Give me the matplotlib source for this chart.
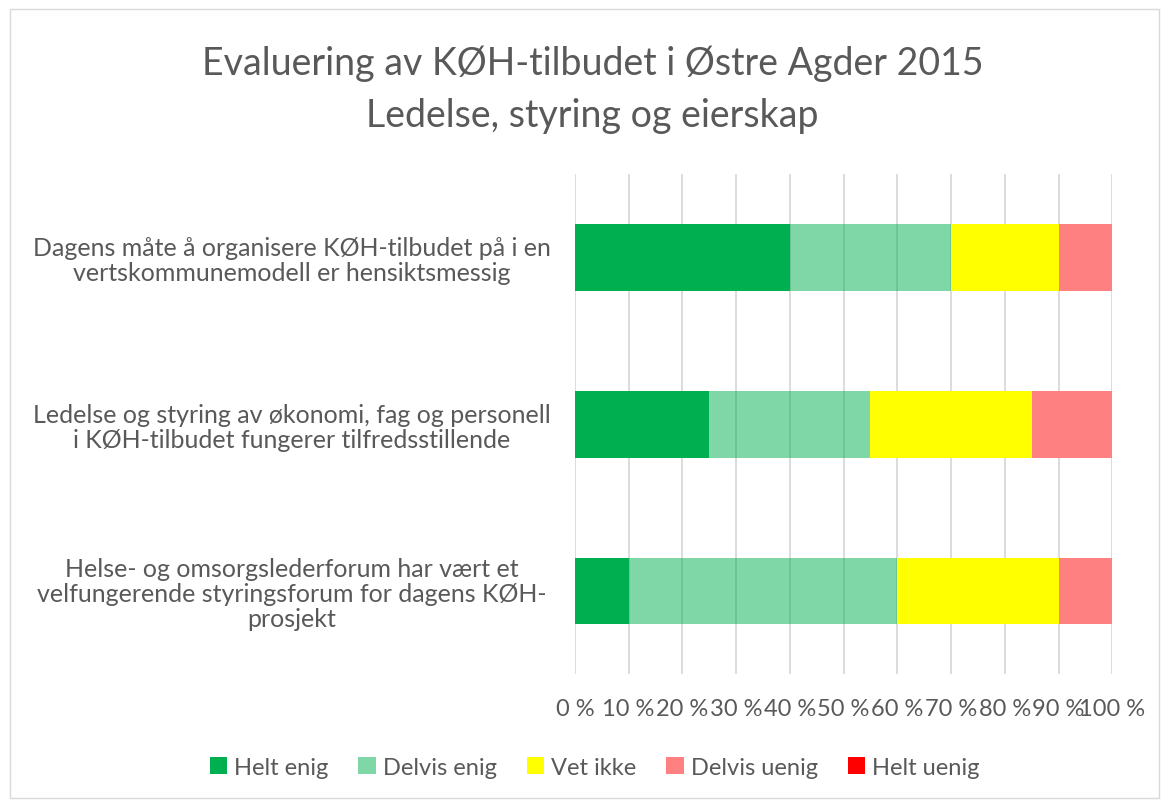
import numpy as np
import matplotlib.pyplot as plt
from matplotlib.patches import Rectangle

plt.rcParams['font.family'] = ['Lato', 'DejaVu Sans']

# Data
questions = [
    "Dagens måte å organisere KØH-tilbudet på i en\nvertskommunemodell er hensiktsmessig",
    "Ledelse og styring av økonomi, fag og personell\ni KØH-tilbudet fungerer tilfredsstillende",
    "Helse- og omsorgslederforum har vært et\nvelfungerende styringsforum for dagens KØH-\nprosjekt",
]
series = ["Helt enig", "Delvis enig", "Vet ikke", "Delvis uenig", "Helt uenig"]
helt_enig = [40, 25, 10]
delvis_enig = [30, 30, 50]
vet_ikke = [20, 30, 30]
delvis_uenig = [10, 15, 10]
helt_uenig = [0, 0, 0]
x_ticks = [0, 10, 20, 30, 40, 50, 60, 70, 80, 90, 100]
x_tick_labels = ["0 %", "10 %", "20 %", "30 %", "40 %", "50 %", "60 %", "70 %", "80 %", "90 %", "100 %"]

colors = ["#00B050", "#7FD6A3", "#FFFF00", "#FF8080", "#FF0000"]
alphas = [1.0, 0.5, 1.0, 1.0, 1.0]
text_color = "#595959"

fig = plt.figure(figsize=(11.66, 8.03), dpi=100)
fig.patches.append(Rectangle((0.009, 0.005), 0.985, 0.982, transform=fig.transFigure,
                             fill=False, edgecolor="#D9D9D9", linewidth=1))
ax = fig.add_axes([0.493, 0.159, 0.461, 0.623])

values = [helt_enig, delvis_enig, vet_ikke, delvis_uenig, helt_uenig]
y = np.arange(len(questions))
left = np.zeros(len(questions))
for name, vals, c, a in zip(series, values, colors, alphas):
    # the light green is the dark green at half alpha, so the grid shows through
    face = "#00B050" if a < 1 else c
    ax.barh(y, vals, left=left, height=0.4, color=face, alpha=a, label=name, zorder=3,
            linewidth=0)
    left += np.array(vals)

ax.set_xlim(0, 100)
ax.set_ylim(2.5, -0.5)
ax.set_xticks(x_ticks)
ax.set_xticklabels(x_tick_labels, fontsize=17, color=text_color)
ax.set_yticks(y)
ax.set_yticklabels(questions, fontsize=18, color=text_color, ha='center',
                   multialignment='center', linespacing=1.1)
ax.tick_params(axis='y', length=0, pad=204)
ax.tick_params(axis='x', length=0, pad=17)
ax.grid(axis='x', color="#D9D9D9", linewidth=1.3, zorder=0)
for s in ax.spines.values():
    s.set_visible(False)

fig.text(0.508, 0.8885, "Evaluering av KØH-tilbudet i Østre Agder 2015\nLedelse, styring og eierskap",
         ha='center', va='center', fontsize=27, color=text_color, linespacing=1.55)

handles, labels = ax.get_legend_handles_labels()
leg = fig.legend(handles, labels, loc='center', bbox_to_anchor=(0.51, 0.043), ncol=5,
                 frameon=False, fontsize=17, handlelength=0.75, handleheight=0.75,
                 handletextpad=0.3, columnspacing=1.25)
for t in leg.get_texts():
    t.set_color(text_color)

fig.savefig("out.png", dpi=100)
